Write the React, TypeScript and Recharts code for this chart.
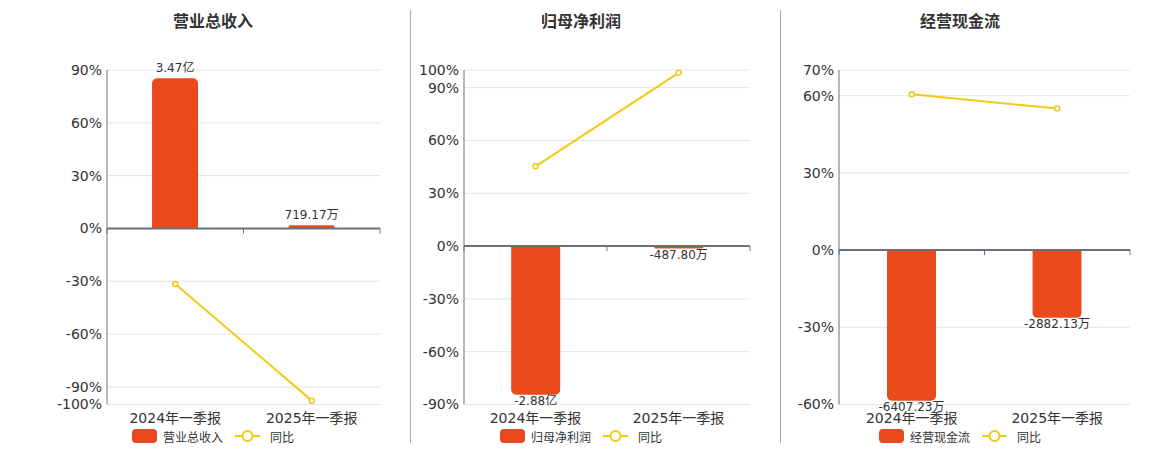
import { Bar, CartesianGrid, ComposedChart, LabelList, Line, ReferenceLine, XAxis, YAxis } from 'recharts';

const categories = ['2024年一季报', '2025年一季报'];

// amounts in 万元
const revenue = [34700, 719.17];
const revenueLabels = ['3.47亿', '719.17万'];
const revenueYoy = [-31.5, -97.8];
const revenueTicks = [90, 60, 30, 0, -30, -60, -90, -100];

const profit = [-28800, -487.8];
const profitLabels = ['-2.88亿', '-487.80万'];
const profitYoy = [45.3, 98.4];
const profitTicks = [100, 90, 60, 30, 0, -30, -60, -90];

const cash = [-6407.23, -2882.13];
const cashLabels = ['-6407.23万', '-2882.13万'];
const cashYoy = [60.6, 55.0];
const cashTicks = [70, 60, 30, 0, -30, -60];

const FONT = '"DejaVu Sans", "Noto Sans CJK SC", sans-serif';
const BAR = '#e84a1c';
const LINE = '#f2ca0f';
const AXIS = '#6e7079';
const TEXT = '#333';

function ZeroAxis(props: any) {
  const { x1, y1, x2, y2 } = props;
  const mid = (x1 + x2) / 2;
  return (
    <g>
      <line x1={x1} y1={y1} x2={x2} y2={y2} stroke={AXIS} strokeWidth={2} />
      {[x1, mid, x2].map((x: number, i: number) => (
        <line key={i} x1={x} x2={x} y1={y1} y2={y1 + 5} stroke={AXIS} strokeWidth={1} />
      ))}
    </g>
  );
}

function barLabel(labels: string[]) {
  return (p: any) => {
    const { x, y, width, height, index, value } = p;
    const a = Number(y);
    const b = Number(y) + Number(height);
    const cx = Number(x) + Number(width) / 2;
    const ty = value >= 0 ? Math.min(a, b) - 6 : Math.max(a, b) + 10;
    return (
      <text x={cx} y={ty} textAnchor="middle" fontSize={12} fill={TEXT} fontFamily={FONT}>
        {labels[index]}
      </text>
    );
  };
}

interface PanelProps {
  title: string;
  left: number;
  width: number;
  axisWidth: number;
  center: number;
  values: number[];
  labels: string[];
  yoy: number[];
  ticks: number[];
  scale: number; // bar units per percent point, keeps zero aligned
}

function Panel({ title, left, width, axisWidth, center, values, labels, yoy, ticks, scale }: PanelProps) {
  const data = categories.map((name, i) => ({ name, value: values[i], yoy: yoy[i] }));
  const lo = Math.min(...ticks);
  const hi = Math.max(...ticks);
  return (
    <>
      <div
        style={{
          position: 'absolute',
          left: center - 100,
          width: 200,
          top: 12,
          textAlign: 'center',
          fontSize: 16,
          fontWeight: 'bold',
          color: TEXT,
          fontFamily: FONT,
          lineHeight: '20px',
        }}
      >
        {title}
      </div>
      <div style={{ position: 'absolute', left, top: 0 }}>
        <ComposedChart
          width={width}
          height={450}
          data={data}
          barCategoryGap="33%"
          margin={{ top: 70, right: 30, bottom: 15.5, left: 0 }}
        >
          <CartesianGrid yAxisId="pct" vertical={false} stroke="#e0e6f1" />
          <XAxis
            dataKey="name"
            axisLine={false}
            tickLine={false}
            height={30}
            tickSize={0}
            tickMargin={9}
            tick={{ fontSize: 14, fill: TEXT, fontFamily: FONT }}
          />
          <YAxis
            yAxisId="pct"
            type="number"
            domain={[lo, hi]}
            ticks={ticks}
            interval={0}
            width={axisWidth}
            axisLine={{ stroke: AXIS }}
            tickLine={false}
            tickSize={0}
            tickMargin={5}
            tickFormatter={(v: number) => `${v}%`}
            tick={{ fontSize: 14, fill: TEXT, fontFamily: FONT }}
          />
          <YAxis
            yAxisId="bar"
            orientation="right"
            type="number"
            hide
            width={0}
            domain={[lo * scale, hi * scale]}
          />
          <Bar yAxisId="bar" dataKey="value" fill={BAR} radius={[5, 5, 0, 0]} isAnimationActive={false}>
            <LabelList dataKey="value" content={barLabel(labels)} />
          </Bar>
          <ReferenceLine yAxisId="pct" y={0} shape={ZeroAxis} />
          <Line
            yAxisId="pct"
            dataKey="yoy"
            stroke={LINE}
            strokeWidth={2}
            dot={{ r: 2.5, fill: '#fff', stroke: LINE, strokeWidth: 1.5 }}
            isAnimationActive={false}
          />
        </ComposedChart>
      </div>
      <div
        style={{
          position: 'absolute',
          left: center - 150,
          width: 300,
          top: 428,
          display: 'flex',
          justifyContent: 'center',
          alignItems: 'center',
          fontSize: 12,
          color: TEXT,
          fontFamily: FONT,
          height: 16,
        }}
      >
        <span style={{ width: 25, height: 14, borderRadius: 4, background: BAR, display: 'inline-block' }} />
        <span style={{ marginLeft: 6, marginRight: 12 }}>{title}</span>
        <svg width={25} height={14}>
          <line x1={0} x2={25} y1={7} y2={7} stroke={LINE} strokeWidth={2} />
          <circle cx={12.5} cy={7} r={5} fill="#fff" stroke={LINE} strokeWidth={2} />
        </svg>
        <span style={{ marginLeft: 10 }}>同比</span>
      </div>
    </>
  );
}

export default function App() {
  return (
    <div style={{ position: 'absolute', left: 0, top: 0, width: 1160, height: 450, background: '#fff' }}>
      <div style={{ position: 'absolute', left: 410, top: 10, width: 1, height: 433, background: '#aaa' }} />
      <div style={{ position: 'absolute', left: 780, top: 10, width: 1, height: 433, background: '#aaa' }} />
      <Panel
        title="营业总收入"
        left={0}
        width={410}
        axisWidth={107}
        center={213}
        values={revenue}
        labels={revenueLabels}
        yoy={revenueYoy}
        ticks={revenueTicks}
        scale={407}
      />
      <Panel
        title="归母净利润"
        left={410}
        width={370}
        axisWidth={54}
        center={581}
        values={profit}
        labels={profitLabels}
        yoy={profitYoy}
        ticks={profitTicks}
        scale={340.8}
      />
      <Panel
        title="经营现金流"
        left={780}
        width={380}
        axisWidth={59}
        center={960}
        values={cash}
        labels={cashLabels}
        yoy={cashYoy}
        ticks={cashTicks}
        scale={109.5}
      />
    </div>
  );
}
